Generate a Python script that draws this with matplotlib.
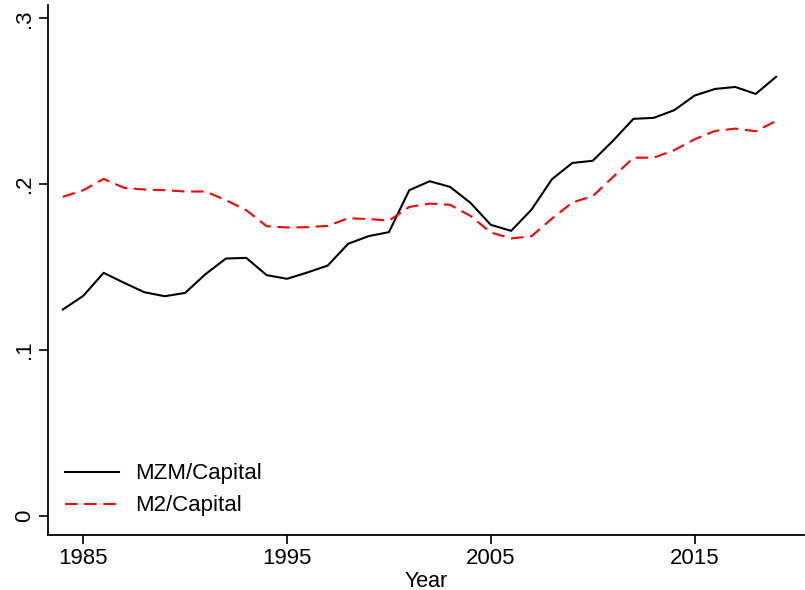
import matplotlib
matplotlib.use("Agg")
import matplotlib.pyplot as plt

years = list(range(1984, 2020))
mzm_capital = [0.1245, 0.1327, 0.1466, 0.1406, 0.1349, 0.1325, 0.1345, 0.1458, 0.1552, 0.1556,
               0.1452, 0.1430, 0.1468, 0.1510, 0.1641, 0.1687, 0.1711, 0.1964, 0.2018, 0.1984,
               0.1888, 0.1755, 0.1719, 0.1847, 0.2030, 0.2128, 0.2141, 0.2262, 0.2394, 0.2400,
               0.2446, 0.2534, 0.2574, 0.2586, 0.2544, 0.2647]
m2_capital = [0.1924, 0.1964, 0.2032, 0.1978, 0.1968, 0.1964, 0.1956, 0.1956, 0.1904, 0.1843,
              0.1747, 0.1739, 0.1741, 0.1749, 0.1795, 0.1790, 0.1781, 0.1863, 0.1883, 0.1876,
              0.1809, 0.1709, 0.1673, 0.1687, 0.1793, 0.1890, 0.1928, 0.2044, 0.2160, 0.2160,
              0.2205, 0.2271, 0.2321, 0.2335, 0.2319, 0.2381]
x_ticks = [1985, 1995, 2005, 2015]
y_ticks = [0, 0.1, 0.2, 0.3]
y_ticklabels = ["0", ".1", ".2", ".3"]

plt.rcParams['font.family'] = ['Liberation Sans', 'DejaVu Sans']

fig = plt.figure(figsize=(8.05, 5.9), dpi=100)
ax = fig.add_axes([48/805, 1-535/590, 1-48/805-0.001, (535-5)/590])

ax.plot(years, mzm_capital, color='black', lw=1.5, label='MZM/Capital')
ax.plot(years, m2_capital, color='red', lw=1.5, dashes=(6, 3.2), label='M2/Capital')

ax.set_xlim(1983.27, 2020.38)
ax.set_ylim(-0.0114, 0.308)
ax.set_xticks(x_ticks)
ax.set_xticklabels([str(t) for t in x_ticks])
ax.set_yticks(y_ticks)
ax.set_yticklabels(y_ticklabels, rotation=90, va='center')
ax.tick_params(axis='both', labelsize=16, length=6.5, width=1.2, direction='out', pad=3)
ax.set_xlabel('Year', fontsize=15.5, labelpad=1)

for s in ['top', 'right']:
    ax.spines[s].set_visible(False)
for s in ['left', 'bottom']:
    ax.spines[s].set_linewidth(1.3)

ax.legend(loc='lower left', frameon=False, fontsize=16, handlelength=2.45,
          handletextpad=0.7, bbox_to_anchor=(0.0225, 0.035), borderaxespad=0,
          borderpad=0, labelspacing=0.5)

fig.savefig('out.png', dpi=100)
